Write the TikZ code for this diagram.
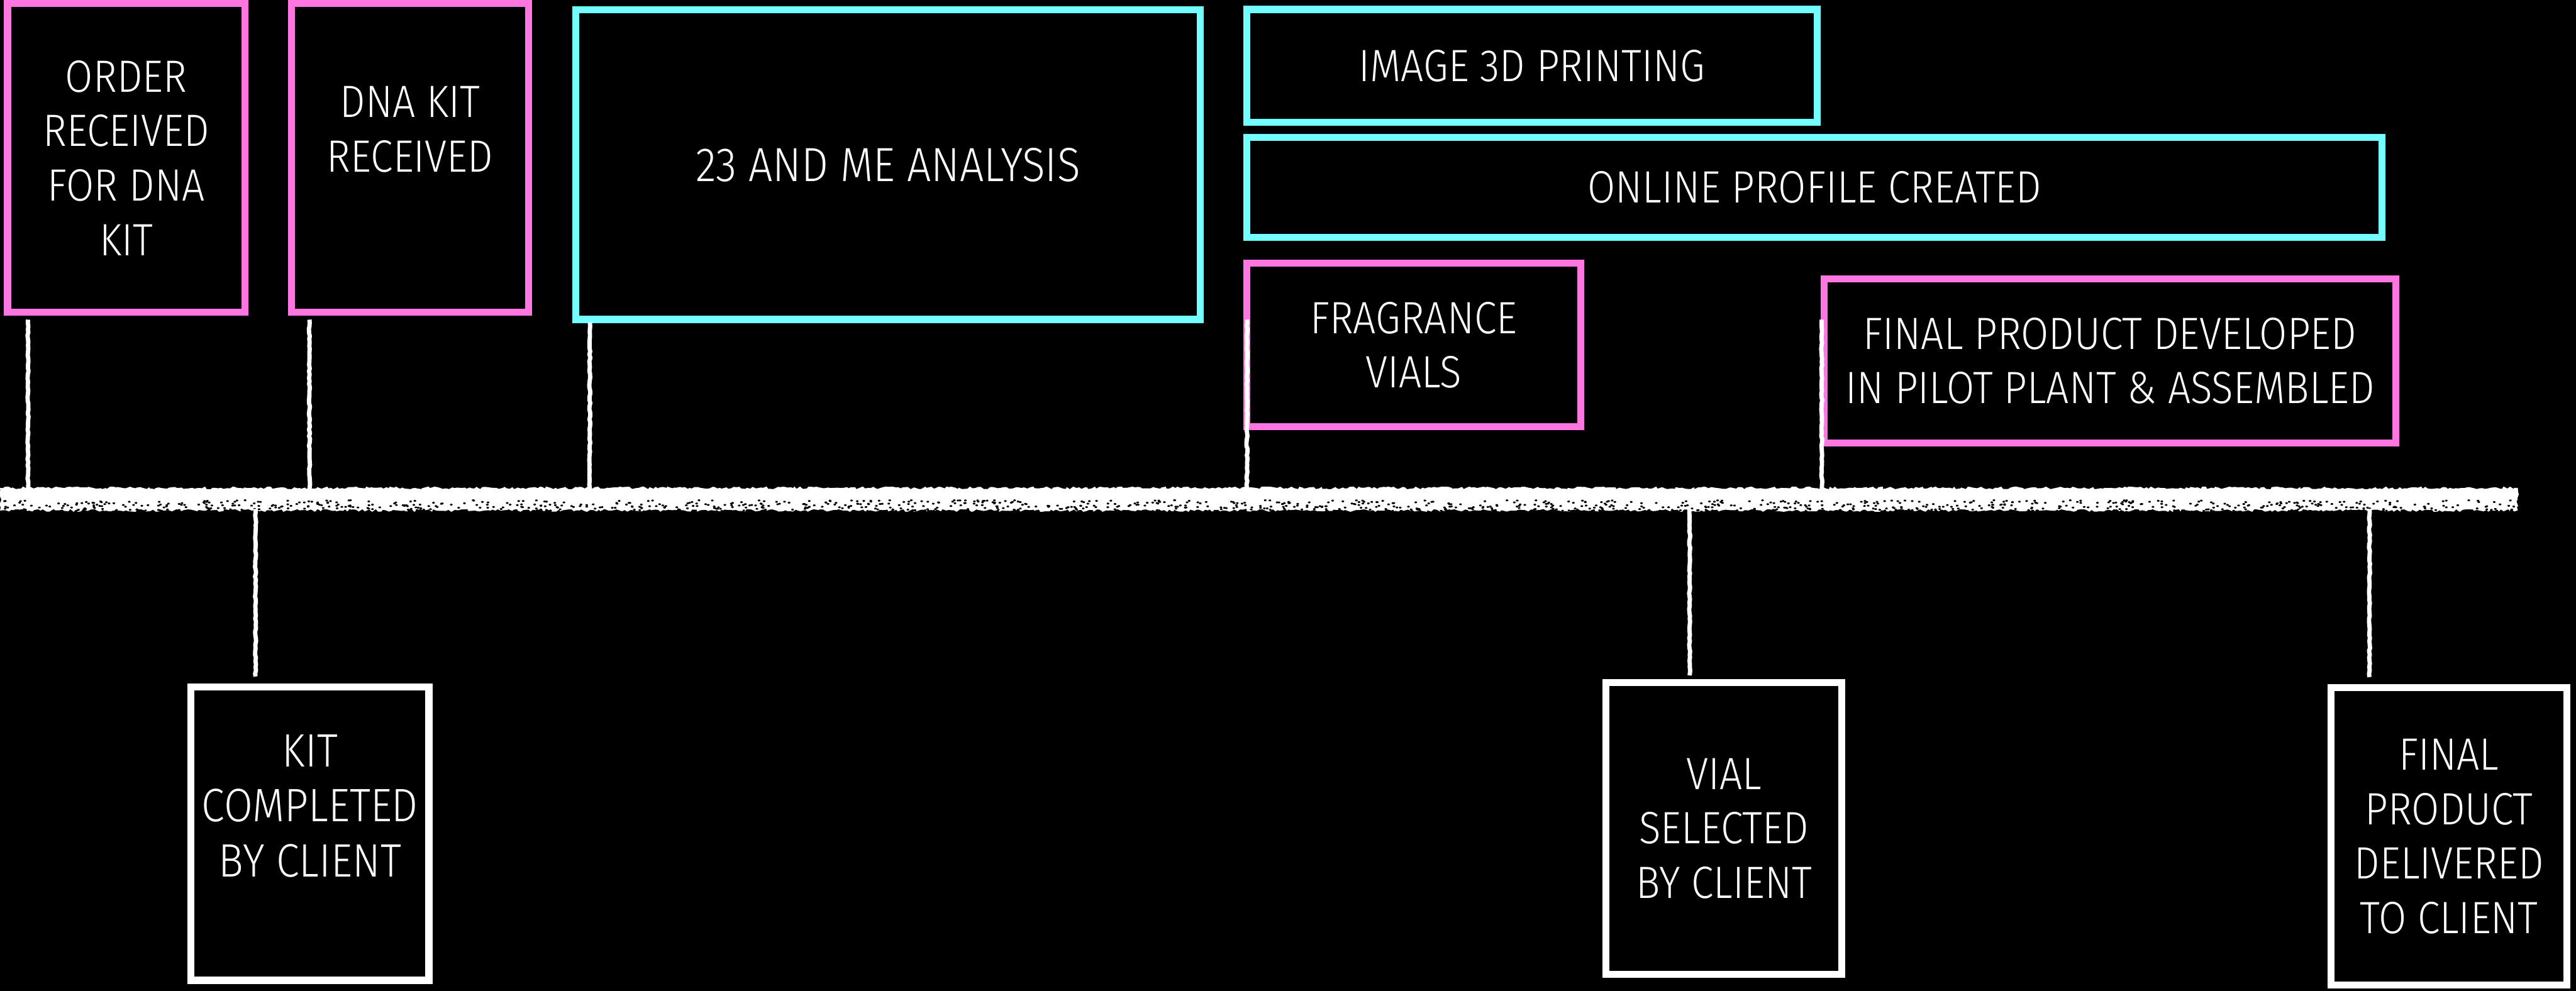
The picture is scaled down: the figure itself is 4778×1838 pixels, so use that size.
\documentclass[tikz,border=0pt]{standalone}
\usepackage{fontspec}
\setmainfont{Fira Sans Light}[FakeStretch=0.89]
\newfontfamily\widefont{Fira Sans Light}[FakeStretch=0.89]
\usetikzlibrary{decorations.pathmorphing}
\definecolor{pinkb}{RGB}{255,118,225}
\definecolor{cyanb}{RGB}{115,255,255}
\begin{document}
\begin{tikzpicture}[x=1pt,y=-1pt,
  box/.style={draw=#1, line width=13pt, inner sep=0pt, outer sep=0pt, fill=black,
    text=white, align=center, font=\fontsize{84}{101}\selectfont},
  lbl/.style={text=white, align=center, inner sep=0pt, font=\fontsize{84}{101}\selectfont},
  chalk/.style={draw=white, line width=8pt, line join=round, decorate, decoration={random steps, segment length=6pt, amplitude=1pt}}
]
\pgfmathsetseed{7}
\useasboundingbox (0,0) rectangle (4778,1838);
\fill[black] (0,0) rectangle (4778,1838);

% timeline
\coordinate (tlA) at (0,905);
\coordinate (tlB) at (4670,947);
\fill[white, decorate, decoration={random steps, segment length=5pt, amplitude=2.5pt}] (tlA) rectangle (tlB);
\foreach \i in {1,...,1100}{
  \pgfmathsetmacro{\xx}{rnd*4660+5}
  \pgfmathsetmacro{\yy}{rnd*20+928}
  \fill[black] (\xx,\yy) ellipse (2.5pt and 1.8pt);
}

% upper boxes (outer extents minus border)
\node[box=pinkb, minimum width=440pt, minimum height=573pt] (b1) at (234,293) {ORDER\\RECEIVED\\FOR DNA\\KIT};
\node[box=pinkb, minimum width=440pt, minimum height=573pt] (b2) at (760.5,293) {};
\node[lbl] (t2) at (760.5,240) {DNA KIT\\RECEIVED};
\node[box=cyanb, minimum width=1159pt, minimum height=574pt, font=\fontsize{89}{101}\selectfont] (b3) at (1647,305.5) {23 AND ME ANALYSIS};
\node[box=cyanb, minimum width=1058pt, minimum height=209pt] (b4) at (2841.5,122) {IMAGE 3D PRINTING};
\node[box=cyanb, minimum width=2106pt, minimum height=186pt] (b5) at (3365.5,347.5) {ONLINE PROFILE CREATED};
\node[box=pinkb, minimum width=619pt, minimum height=303pt] (b6) at (2622,640) {FRAGRANCE\\VIALS};
\node[box=pinkb, minimum width=1060pt, minimum height=304pt] (b7) at (3913.5,669.5) {FINAL PRODUCT DEVELOPED\\IN PILOT PLANT \& ASSEMBLED};

% lower boxes
\node[box=white, minimum width=441pt, minimum height=544pt] (b8) at (575,1546.5) {};
\node[lbl, font=\widefont\fontsize{87}{102}\selectfont] (t8) at (575,1495) {KIT\\COMPLETED\\BY CLIENT};
\node[box=white, minimum width=438pt, minimum height=541pt] (b9) at (3197.5,1537) {VIAL\\SELECTED\\BY CLIENT};
\node[box=white, minimum width=438pt, minimum height=552pt] (b10) at (4542.5,1551.5) {FINAL\\PRODUCT\\DELIVERED\\TO CLIENT};

% connector end points
\coordinate (u1) at (52,593);   \coordinate (v1) at (52,908);
\coordinate (u2) at (574,593);  \coordinate (v2) at (574,908);
\coordinate (u3) at (1094,598); \coordinate (v3) at (1094,908);
\coordinate (u6) at (2313,593); \coordinate (v6) at (2313,908);
\coordinate (u7) at (3379,593); \coordinate (v7) at (3379,908);
\coordinate (d8) at (474,944);  \coordinate (e8) at (474,1255);
\coordinate (d9) at (3134,944); \coordinate (e9) at (3134,1253);
\coordinate (d10) at (4395,944); \coordinate (e10) at (4395,1256);

\draw[chalk] (u1) -- (v1);
\draw[chalk] (u2) -- (v2);
\draw[chalk] (u3) -- (v3);
\draw[chalk] (u6) -- (v6);
\draw[chalk] (u7) -- (v7);
\draw[chalk] (d8) -- (e8);
\draw[chalk] (d9) -- (e9);
\draw[chalk] (d10) -- (e10);
\end{tikzpicture}
\end{document}
